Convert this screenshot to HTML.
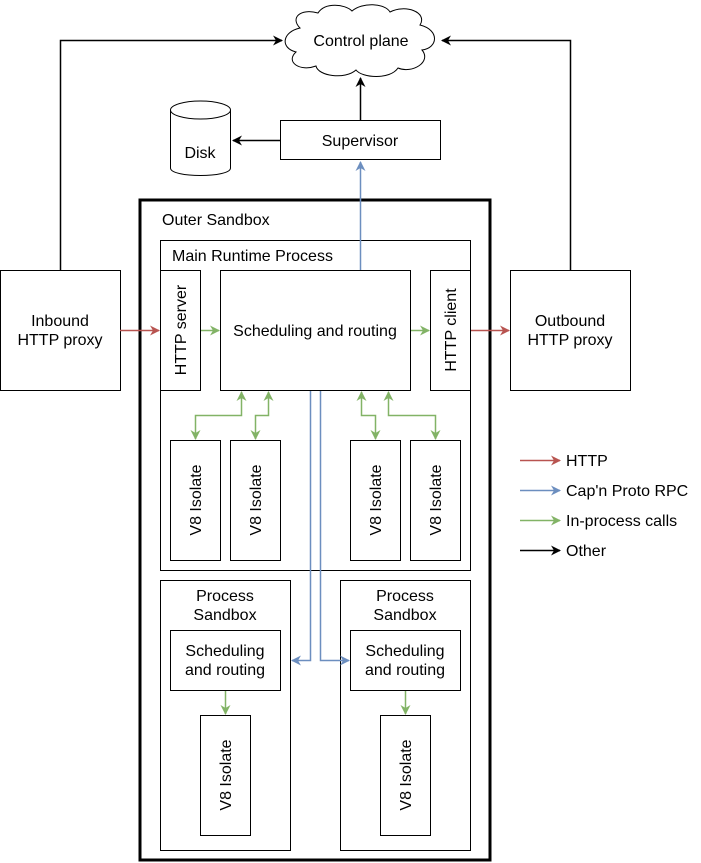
<!DOCTYPE html>
<html><head><meta charset="utf-8"><style>html,body{margin:0;padding:0;background:#fff}svg{display:block}text{font-family:"Liberation Sans",Arial,sans-serif;font-size:16px;fill:#000}</style></head><body>
<svg width="701" height="863" viewBox="0 0 701 863" xmlns="http://www.w3.org/2000/svg">
<defs>
<marker id="ak" viewBox="0 0 10 10" refX="9" refY="5" markerWidth="10" markerHeight="10" markerUnits="userSpaceOnUse" orient="auto-start-reverse"><path d="M0,0 L10,5 L0,10 L3,5 Z" fill="#000"/></marker>
<marker id="ar" viewBox="0 0 10 10" refX="9" refY="5" markerWidth="10" markerHeight="10" markerUnits="userSpaceOnUse" orient="auto-start-reverse"><path d="M0,0 L10,5 L0,10 L3,5 Z" fill="#b85450"/></marker>
<marker id="ab" viewBox="0 0 10 10" refX="9" refY="5" markerWidth="10" markerHeight="10" markerUnits="userSpaceOnUse" orient="auto-start-reverse"><path d="M0,0 L10,5 L0,10 L3,5 Z" fill="#6c8ebf"/></marker>
<marker id="ag" viewBox="0 0 10 10" refX="9" refY="5" markerWidth="10" markerHeight="10" markerUnits="userSpaceOnUse" orient="auto-start-reverse"><path d="M0,0 L10,5 L0,10 L3,5 Z" fill="#82b366"/></marker>
</defs>
<g fill="none" stroke="#000" stroke-width="1">
<path d="M300,28 C290,18 300,8 318,13 C325,2 345,4 352,11 C362,2 385,3 390,12 C405,4 428,12 420,25 C440,30 438,48 422,50 C432,62 412,74 398,68 C390,80 362,78 356,70 C345,80 318,76 316,66 C300,72 285,62 296,52 C280,48 282,32 300,28 Z" stroke-width="1"/>
<rect x="280.5" y="120.5" width="160" height="39"/>
<path d="M170.5,110 L170.5,168 C170.5,178 230.5,178 230.5,168 L230.5,110"/>
<ellipse cx="200.5" cy="110" rx="30" ry="9"/>
<rect x="140" y="200" width="350" height="660" stroke-width="3"/>
<rect x="160.5" y="240.5" width="310" height="330"/>
<rect x="160.5" y="270.5" width="40" height="120"/>
<rect x="220.5" y="270.5" width="190" height="120"/>
<rect x="430.5" y="270.5" width="40" height="120"/>
<rect x="0.5" y="270.5" width="120" height="120"/>
<rect x="510.5" y="270.5" width="120" height="120"/>
<rect x="170.5" y="440.5" width="50" height="120"/>
<rect x="230.5" y="440.5" width="50" height="120"/>
<rect x="350.5" y="440.5" width="50" height="120"/>
<rect x="410.5" y="440.5" width="50" height="120"/>
<rect x="160.5" y="580.5" width="130" height="270"/>
<rect x="340.5" y="580.5" width="130" height="270"/>
<rect x="170.5" y="630.5" width="110" height="60"/>
<rect x="350.5" y="630.5" width="110" height="60"/>
<rect x="200.5" y="715.5" width="50" height="120"/>
<rect x="380.5" y="715.5" width="50" height="120"/>
<path d="M60.5,270 L60.5,40.5 L282,40.5" stroke-width="1.5" marker-end="url(#ak)"/>
<path d="M570.5,270 L570.5,40.5 L442,40.5" stroke-width="1.5" marker-end="url(#ak)"/>
<path d="M360.5,120 L360.5,78" stroke-width="1.5" marker-end="url(#ak)"/>
<path d="M280,140.5 L233,140.5" stroke-width="1.5" marker-end="url(#ak)"/>
<path d="M520,460.5 L560,460.5" stroke="#b85450" stroke-width="1.5" marker-end="url(#ar)"/>
<path d="M520,490.5 L560,490.5" stroke="#6c8ebf" stroke-width="1.5" marker-end="url(#ab)"/>
<path d="M520,520.5 L560,520.5" stroke="#82b366" stroke-width="1.5" marker-end="url(#ag)"/>
<path d="M520,550.5 L560,550.5" stroke-width="1.5" marker-end="url(#ak)"/>
<path d="M120,330.5 L159,330.5" stroke="#b85450" stroke-width="1.5" marker-end="url(#ar)"/>
<path d="M471,330.5 L509,330.5" stroke="#b85450" stroke-width="1.5" marker-end="url(#ar)"/>
<path d="M360.5,270 L360.5,162" stroke="#6c8ebf" stroke-width="1.5" marker-end="url(#ab)"/>
<path d="M310.5,391 L310.5,660.5 L292,660.5" stroke="#6c8ebf" stroke-width="1.5" marker-end="url(#ab)"/>
<path d="M320.5,391 L320.5,660.5 L349,660.5" stroke="#6c8ebf" stroke-width="1.5" marker-end="url(#ab)"/>
<path d="M201,330.5 L219,330.5" stroke="#82b366" stroke-width="1.5" marker-end="url(#ag)"/>
<path d="M411,330.5 L429,330.5" stroke="#82b366" stroke-width="1.5" marker-end="url(#ag)"/>
<path d="M241.5,392 L241.5,415.5 L195.5,415.5 L195.5,439" stroke="#82b366" stroke-width="1.5" marker-start="url(#ag)" marker-end="url(#ag)"/>
<path d="M268.5,392 L268.5,415.5 L255.5,415.5 L255.5,439" stroke="#82b366" stroke-width="1.5" marker-start="url(#ag)" marker-end="url(#ag)"/>
<path d="M361.5,392 L361.5,415.5 L375.5,415.5 L375.5,439" stroke="#82b366" stroke-width="1.5" marker-start="url(#ag)" marker-end="url(#ag)"/>
<path d="M388.5,392 L388.5,415.5 L435.5,415.5 L435.5,439" stroke="#82b366" stroke-width="1.5" marker-start="url(#ag)" marker-end="url(#ag)"/>
<path d="M225.5,691 L225.5,714" stroke="#82b366" stroke-width="1.5" marker-end="url(#ag)"/>
<path d="M405.5,691 L405.5,714" stroke="#82b366" stroke-width="1.5" marker-end="url(#ag)"/>
</g>
<g text-anchor="middle">
<text x="361" y="46">Control plane</text>
<text x="360" y="146">Supervisor</text>
<text x="200" y="158">Disk</text>
<text x="60" y="326">Inbound</text>
<text x="60" y="345">HTTP proxy</text>
<text x="570" y="326">Outbound</text>
<text x="570" y="345">HTTP proxy</text>
<text x="315" y="336">Scheduling and routing</text>
<text x="225" y="601">Process</text>
<text x="225" y="620">Sandbox</text>
<text x="405" y="601">Process</text>
<text x="405" y="620">Sandbox</text>
<text x="225" y="656">Scheduling</text>
<text x="225" y="675">and routing</text>
<text x="405" y="656">Scheduling</text>
<text x="405" y="675">and routing</text>
<text transform="translate(186,330) rotate(-90)">HTTP server</text>
<text transform="translate(456,330) rotate(-90)">HTTP client</text>
<text transform="translate(201,500) rotate(-90)">V8 Isolate</text>
<text transform="translate(261,500) rotate(-90)">V8 Isolate</text>
<text transform="translate(381,500) rotate(-90)">V8 Isolate</text>
<text transform="translate(441,500) rotate(-90)">V8 Isolate</text>
<text transform="translate(231,775) rotate(-90)">V8 Isolate</text>
<text transform="translate(411,775) rotate(-90)">V8 Isolate</text>
</g>
<text x="162" y="225">Outer Sandbox</text>
<text x="172" y="261">Main Runtime Process</text>
<text x="566" y="466">HTTP</text>
<text x="566" y="496">Cap'n Proto RPC</text>
<text x="566" y="526">In-process calls</text>
<text x="566" y="556">Other</text>
</svg>
</body></html>
